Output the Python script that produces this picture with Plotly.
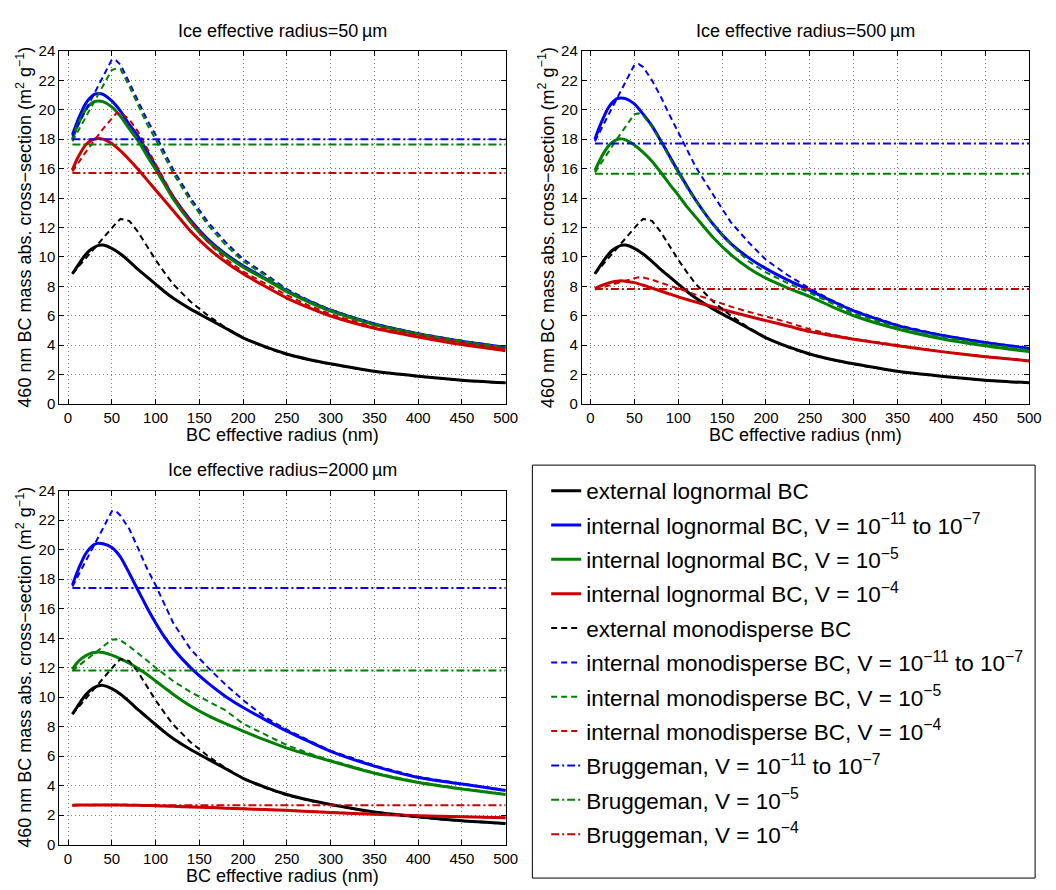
import plotly.graph_objects as go

# ---------------- data ----------------
R_LOG = [5, 10, 15, 20, 25, 30, 35, 40, 50, 60, 70, 80, 90, 100, 110, 120, 140, 160, 180, 200,
         225, 250, 275, 300, 350, 400, 450, 500]
R_MONO = [5, 10, 20, 30, 40, 50, 55, 60, 70, 80, 90, 100, 110, 120, 140, 160, 180, 200,
          225, 250, 275, 300, 350, 400, 450, 500]
R_BRUG = [5, 500]

EXT_LOG = [8.85, 9.3, 9.75, 10.15, 10.45, 10.65, 10.78, 10.8, 10.58, 10.2, 9.7, 9.15, 8.65, 8.15,
           7.65, 7.2, 6.45, 5.8, 5.15, 4.5, 3.9, 3.4, 3.03, 2.73, 2.22, 1.89, 1.62, 1.44]
EXT_MONO = [8.85, 9.2, 9.9, 10.6, 11.3, 11.95, 12.3, 12.58, 12.45, 11.7, 10.75, 9.8, 8.95, 8.15,
            6.95, 6.0, 5.2, 4.5, 3.85, 3.35, 3.0, 2.7, 2.2, 1.86, 1.6, 1.42]

# Ice effective radius = 50 um
P1_LOG_V7 = [18.3, 19.1, 19.8, 20.4, 20.8, 21.05, 21.1, 21.05, 20.6, 19.9, 19.0, 18.2, 17.2, 16.2,
             15.1, 14.1, 12.5, 11.2, 10.2, 9.4, 8.55, 7.7, 7.0, 6.38, 5.44, 4.78, 4.27, 3.85]
P1_LOG_V5 = [18.0, 18.8, 19.45, 20.0, 20.35, 20.55, 20.6, 20.55, 20.2, 19.55, 18.7, 17.9, 16.9, 15.95,
             14.95, 13.95, 12.35, 11.05, 10.1, 9.3, 8.48, 7.63, 6.93, 6.32, 5.4, 4.75, 4.23, 3.8]
P1_LOG_V4 = [15.9, 16.6, 17.15, 17.6, 17.85, 18.0, 18.05, 18.0, 17.7, 17.2, 16.6, 15.95, 15.25, 14.55,
             13.85, 13.15, 11.75, 10.6, 9.65, 8.85, 8.0, 7.2, 6.55, 5.98, 5.15, 4.56, 4.04, 3.62]
P1_MONO_V7 = [18.2, 18.8, 19.9, 21.1, 22.25, 23.4, 23.35, 23.05, 21.85, 20.55, 19.35, 18.3, 17.1,
              15.95, 14.0, 12.35, 11.0, 9.85, 8.85, 7.8, 7.05, 6.4, 5.45, 4.8, 4.29, 3.86]
P1_MONO_V5 = [17.85, 18.4, 19.5, 20.55, 21.6, 22.7, 22.8, 22.75, 21.6, 20.3, 19.05, 18.0, 16.85,
              15.7, 13.8, 12.15, 10.8, 9.7, 8.75, 7.72, 7.0, 6.36, 5.41, 4.77, 4.26, 3.82]
P1_MONO_V4 = [15.8, 16.25, 17.1, 17.9, 18.7, 19.4, 19.75, 19.8, 19.35, 18.5, 17.4, 16.3, 15.2,
              14.15, 12.4, 11.0, 9.85, 9.0, 8.2, 7.4, 6.7, 6.1, 5.22, 4.68, 4.17, 3.76]
P1_BRUG = [18.0, 17.63, 15.7]

# Ice effective radius = 500 um
P2_LOG_V7 = [18.0, 18.8, 19.5, 20.1, 20.5, 20.75, 20.8, 20.75, 20.4, 19.7, 18.9, 17.9, 16.85, 15.8,
             14.8, 13.85, 12.2, 10.9, 9.95, 9.2, 8.42, 7.73, 7.0, 6.33, 5.33, 4.67, 4.18, 3.78]
P2_LOG_V5 = [15.85, 16.5, 17.05, 17.5, 17.8, 17.97, 18.02, 17.95, 17.6, 17.1, 16.5, 15.75, 14.95, 14.2,
             13.4, 12.7, 11.3, 10.15, 9.25, 8.55, 7.88, 7.3, 6.62, 6.0, 5.1, 4.44, 3.96, 3.56]
P2_LOG_V4 = [7.85, 8.0, 8.12, 8.22, 8.3, 8.35, 8.37, 8.35, 8.25, 8.08, 7.88, 7.68, 7.48, 7.28,
             7.1, 6.93, 6.6, 6.27, 5.96, 5.67, 5.3, 4.92, 4.65, 4.4, 3.96, 3.56, 3.22, 2.93]
P2_MONO_V7 = [17.85, 18.4, 19.6, 20.75, 21.9, 23.05, 23.1, 22.9, 22.0, 20.9, 19.65, 18.5, 17.3,
              16.1, 14.2, 12.35, 11.0, 9.8, 8.75, 7.85, 7.05, 6.36, 5.36, 4.69, 4.2, 3.8]
P2_MONO_V5 = [15.73, 16.2, 17.1, 18.0, 18.85, 19.7, 19.75, 19.6, 18.85, 17.85, 16.75, 15.7, 14.7,
              13.8, 12.15, 10.85, 9.7, 8.95, 8.2, 7.55, 6.85, 6.15, 5.2, 4.55, 4.07, 3.67]
P2_MONO_V4 = [7.78, 7.87, 8.05, 8.22, 8.38, 8.55, 8.62, 8.6, 8.45, 8.25, 8.02, 7.8, 7.6, 7.4,
              7.0, 6.62, 6.27, 5.95, 5.55, 5.08, 4.72, 4.43, 3.98, 3.57, 3.23, 2.94]
P2_BRUG = [17.7, 15.65, 7.82]

# Ice effective radius = 2000 um
P3_LOG_V7 = [17.6, 18.4, 19.1, 19.7, 20.1, 20.35, 20.44, 20.4, 20.15, 19.5, 18.4, 17.25, 16.1, 15.05,
             14.1, 13.3, 12.0, 10.95, 10.05, 9.3, 8.48, 7.7, 7.0, 6.33, 5.33, 4.56, 4.11, 3.67]
P3_LOG_V5 = [11.9, 12.3, 12.6, 12.8, 12.95, 13.03, 13.07, 13.03, 12.85, 12.6, 12.3, 11.95, 11.55, 11.1,
             10.65, 10.2, 9.4, 8.75, 8.2, 7.7, 7.1, 6.55, 6.1, 5.67, 4.85, 4.22, 3.78, 3.4]
P3_LOG_V4 = [2.68, 2.69, 2.69, 2.7, 2.7, 2.7, 2.7, 2.7, 2.7, 2.69, 2.68, 2.67, 2.66, 2.64,
             2.62, 2.6, 2.56, 2.52, 2.48, 2.43, 2.38, 2.33, 2.25, 2.18, 2.07, 1.96, 1.89, 1.82]
P3_MONO_V7 = [17.5, 18.05, 19.2, 20.3, 21.45, 22.6, 22.6, 22.3, 21.4, 20.1, 18.75, 17.6, 16.3,
              15.05, 13.25, 12.0, 10.85, 9.8, 8.65, 7.8, 7.07, 6.38, 5.37, 4.6, 4.14, 3.71]
P3_MONO_V5 = [11.78, 12.0, 12.5, 12.95, 13.45, 13.9, 13.92, 13.85, 13.45, 13.0, 12.5, 12.0, 11.55,
              11.1, 10.35, 9.7, 9.1, 8.2, 7.45, 6.75, 6.2, 5.72, 4.88, 4.25, 3.8, 3.42]
P3_MONO_V4 = [2.66, 2.68, 2.7, 2.71, 2.72, 2.72, 2.72, 2.72, 2.71, 2.7, 2.69, 2.67, 2.65,
              2.63, 2.58, 2.54, 2.5, 2.45, 2.4, 2.35, 2.27, 2.2, 2.08, 1.97, 1.9, 1.83]
P3_BRUG = [17.4, 11.8, 2.67]

TITLES = ["Ice effective radius=50\u2009\u00b5m",
          "Ice effective radius=500\u2009\u00b5m",
          "Ice effective radius=2000\u2009\u00b5m"]
X_LABEL = "BC effective radius (nm)"
Y_LABEL = "460 nm BC mass abs. cross\u2212section (m<sup>2</sup> g<sup>\u22121</sup>)"
X_TICKS = [0, 50, 100, 150, 200, 250, 300, 350, 400, 450, 500]
Y_TICKS = [0, 2, 4, 6, 8, 10, 12, 14, 16, 18, 20, 22, 24]

V7 = "10<sup>\u221211</sup> to 10<sup>\u22127</sup>"
V5 = "10<sup>\u22125</sup>"
V4 = "10<sup>\u22124</sup>"
NAMES = [
    "external lognormal BC",
    "internal lognormal BC, V = " + V7,
    "internal lognormal BC, V = " + V5,
    "internal lognormal BC, V = " + V4,
    "external monodisperse BC",
    "internal monodisperse BC, V = " + V7,
    "internal monodisperse BC, V = " + V5,
    "internal monodisperse BC, V = " + V4,
    "Bruggeman, V = " + V7,
    "Bruggeman, V = " + V5,
    "Bruggeman, V = " + V4,
]

# ---------------- styling ----------------
BLACK, BLUE, GREEN, RED = "#000000", "#0000ff", "#008000", "#cc0000"
FONT = "Liberation Sans, Arial, Helvetica, sans-serif"
DASH = "6px,4px"
DASHDOT = "8px,3px,2px,3px"

panels = [
    (P1_LOG_V7, P1_LOG_V5, P1_LOG_V4, P1_MONO_V7, P1_MONO_V5, P1_MONO_V4, P1_BRUG),
    (P2_LOG_V7, P2_LOG_V5, P2_LOG_V4, P2_MONO_V7, P2_MONO_V5, P2_MONO_V4, P2_BRUG),
    (P3_LOG_V7, P3_LOG_V5, P3_LOG_V4, P3_MONO_V7, P3_MONO_V5, P3_MONO_V4, P3_BRUG),
]

fig = go.Figure()

for p, (lv7, lv5, lv4, mv7, mv5, mv4, brug) in enumerate(panels):
    xa = "x" if p == 0 else f"x{p+1}"
    ya = "y" if p == 0 else f"y{p+1}"
    series = [
        (R_LOG, EXT_LOG, BLACK, "solid", 3),
        (R_LOG, lv7, BLUE, "solid", 3),
        (R_LOG, lv5, GREEN, "solid", 3),
        (R_LOG, lv4, RED, "solid", 3),
        (R_MONO, EXT_MONO, BLACK, DASH, 2),
        (R_MONO, mv7, BLUE, DASH, 2),
        (R_MONO, mv5, GREEN, DASH, 2),
        (R_MONO, mv4, RED, DASH, 2),
        (R_BRUG, [brug[0]] * 2, BLUE, DASHDOT, 2),
        (R_BRUG, [brug[1]] * 2, GREEN, DASHDOT, 2),
        (R_BRUG, [brug[2]] * 2, RED, DASHDOT, 2),
    ]
    for i, (xs, ys, col, dash, w) in enumerate(series):
        line = dict(color=col, width=w, dash=dash)
        if dash == "solid":
            line["shape"] = "spline"
            line["smoothing"] = 0.6
        fig.add_trace(go.Scatter(
            x=xs, y=ys, mode="lines", line=line,
            name=NAMES[i], legendgroup=f"g{i}", showlegend=(p == 0),
            xaxis=xa, yaxis=ya, hoverinfo="x+y+name"))

W, H = 1056, 890
def px_x(v):
    return v / W
def px_y(v):
    return 1 - v / H

# panel pixel boxes: (left, right, top, bottom)
BOXES = [(60, 512, 42.7, 402.7), (589, 1042, 42.7, 402.7), (60, 512, 491, 852)]

axis_common = dict(
    showline=True, linecolor="black", linewidth=1, mirror="ticks",
    ticks="inside", ticklen=5, tickcolor="black", tickwidth=1,
    showgrid=True, gridcolor="#808080", griddash="1px,3px", gridwidth=1,
    zeroline=False, tickfont=dict(family=FONT, size=15, color="black"),
)

layout = dict(
    width=W, height=H, autosize=False,
    margin=dict(l=0, r=0, t=0, b=0),
    paper_bgcolor="white", plot_bgcolor="white",
    font=dict(family=FONT, color="black"),
    legend=dict(x=px_x(553), y=px_y(469.5), xanchor="left", yanchor="top",
                bgcolor="rgba(0,0,0,0)", borderwidth=0, tracegroupgap=2.1,
                font=dict(family=FONT, size=22.5, color="black")),
    showlegend=True,
)

for p, (l, r, t, b) in enumerate(BOXES):
    xk = "xaxis" if p == 0 else f"xaxis{p+1}"
    yk = "yaxis" if p == 0 else f"yaxis{p+1}"
    ya = "y" if p == 0 else f"y{p+1}"
    xa = "x" if p == 0 else f"x{p+1}"
    layout[xk] = dict(axis_common, domain=[px_x(l), px_x(r)], range=[-10, 500],
                      tickvals=X_TICKS, anchor=ya)
    layout[yk] = dict(axis_common, domain=[px_y(b), px_y(t)], range=[0, 24],
                      tickvals=Y_TICKS, anchor=xa)

fig.update_layout(**layout)

# titles and axis labels as annotations (exact placement)
ann_font = dict(family=FONT, size=18, color="black")
for p, (l, r, t, b) in enumerate(BOXES):
    cx = (l + r) / 2
    fig.add_annotation(text=TITLES[p], x=px_x(cx), y=px_y(t - 20.7), xref="paper", yref="paper",
                       xanchor="center", yanchor="middle", showarrow=False, font=ann_font)
    fig.add_annotation(text=X_LABEL, x=px_x(cx), y=px_y(b + 32), xref="paper", yref="paper",
                       xanchor="center", yanchor="middle", showarrow=False, font=ann_font)
    fig.add_annotation(text=Y_LABEL, x=px_x(l - 35.5), y=px_y((t + b) / 2), xref="paper",
                       yref="paper", xanchor="center", yanchor="middle", textangle=-90,
                       showarrow=False, font=ann_font)

# legend frame
fig.add_shape(type="rect", xref="paper", yref="paper",
              x0=px_x(539), x1=px_x(1048), y0=px_y(886), y1=px_y(465),
              line=dict(color="black", width=1), fillcolor="rgba(0,0,0,0)")

fig.write_html("out.html", config={"displayModeBar": False},
               post_script="document.body.style.margin='0px';document.body.style.overflow='hidden';")
